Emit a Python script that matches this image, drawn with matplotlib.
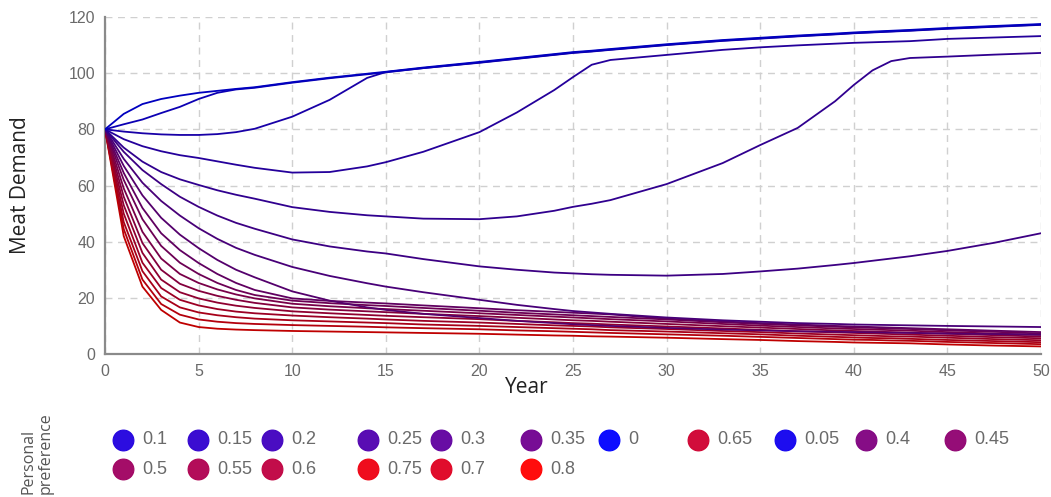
import matplotlib
matplotlib.use("Agg")
import matplotlib.pyplot as plt
from matplotlib.lines import Line2D

# ---------------- data ----------------
years = [0, 1, 2, 3, 4, 5, 6, 7, 8, 10, 12, 14, 15, 17, 20, 22, 24, 25, 26, 27,
         30, 33, 35, 37, 39, 40, 41, 42, 43, 45, 47.5, 50]

pref_0 = [80, 85.5, 89, 90.8, 92, 93, 93.7, 94.4, 95, 96.8, 98.4, 99.8, 100.5, 102, 104, 105.4,
          106.8, 107.5, 108, 108.6, 110.3, 111.8, 112.6, 113.4, 114.1, 114.5, 114.8, 115.1,
          115.4, 116.1, 116.8, 117.5]
pref_005 = [80, 81.8, 83.5, 85.8, 88, 90.8, 93, 94.2, 94.8, 96.6, 98.2, 99.6, 100.3, 101.8, 103.8,
            105.2, 106.6, 107.3, 107.8, 108.4, 110.1, 111.6, 112.4, 113.2, 113.9, 114.3, 114.6,
            114.9, 115.2, 115.9, 116.6, 117.3]
pref_010 = [80, 79.2, 78.6, 78.2, 78, 78, 78.3, 79, 80.2, 84.5, 90.5, 98.3, 100.4, 101.8, 103.7,
            105.1, 106.5, 107.2, 107.7, 108.3, 110, 111.5, 112.3, 113.1, 113.8, 114.2, 114.5,
            114.8, 115.1, 115.8, 116.5, 117.2]
pref_015 = [80, 76.5, 74, 72.2, 70.8, 69.8, 68.6, 67.4, 66.3, 64.6, 64.8, 66.8, 68.3, 72, 79, 86,
            94, 98.6, 103, 104.7, 106.5, 108.3, 109.2, 109.9, 110.5, 110.8, 111, 111.2, 111.4,
            112.2, 112.7, 113.2]
pref_020 = [80, 73.5, 68.5, 64.8, 62.2, 60.2, 58.3, 56.7, 55.3, 52.3, 50.6, 49.4, 49, 48.2, 48,
            49, 51, 52.4, 53.5, 54.8, 60.5, 68, 74.4, 80.5, 90, 95.8, 101, 104.3, 105.4, 105.9,
            106.6, 107.2]
pref_025 = [80, 72, 65.5, 60.5, 56, 52.4, 49.3, 46.7, 44.6, 40.8, 38.3, 36.5, 35.8, 33.8, 31.2,
            30, 29, 28.7, 28.4, 28.2, 27.9, 28.5, 29.4, 30.4, 31.7, 32.4, 33.2, 34, 34.8, 36.7,
            39.6, 43]
pref_030 = [80, 69.5, 61, 54.5, 49.3, 44.8, 41, 37.8, 35.3, 31, 27.8, 25.2, 24, 22, 19.3, 17.5,
            16, 15.3, 14.8, 14.3, 13, 12, 11.5, 11, 10.7, 10.5, 10.4, 10.3, 10.2, 10, 9.8, 9.6]
pref_035 = [80, 67, 56.5, 48.5, 42.5, 37.7, 33.5, 30, 27.3, 22.3, 19, 16.6, 15.7, 14.3, 12.8,
            11.8, 11, 10.6, 10.3, 10, 9.3, 8.7, 8.4, 8.1, 7.9, 7.8, 7.7, 7.6, 7.5, 7.3, 7.1, 6.9]
pref_040 = [80, 64.5, 52, 43, 37, 32.4, 28.5, 25.3, 22.8, 19.8, 18.9, 18.3, 18, 17.3, 16.3, 15.6,
            15, 14.7, 14.4, 14.1, 12.6, 11.6, 11, 10.5, 10, 9.8, 9.6, 9.4, 9.2, 8.8, 8.3, 7.8]
pref_045 = [80, 62, 48, 38.5, 32.5, 28.5, 25.3, 22.8, 21, 19, 18.1, 17.4, 17.1, 16.4, 15.4, 14.7,
            14.1, 13.8, 13.5, 13.2, 12.3, 11.3, 10.7, 10.2, 9.7, 9.5, 9.3, 9.1, 8.9, 8.4, 7.9, 7.3]
pref_050 = [80, 59, 43.5, 34, 28.5, 25.3, 23, 21.2, 19.8, 17.9, 17, 16.3, 16, 15.4, 14.5, 13.9,
            13.3, 13, 12.7, 12.4, 11.6, 10.7, 10.1, 9.6, 9.1, 8.9, 8.7, 8.5, 8.3, 7.8, 7.3, 6.8]
pref_055 = [80, 56, 39.5, 30, 25, 22.5, 20.7, 19.3, 18.2, 16.6, 15.8, 15.2, 14.9, 14.3, 13.5,
            12.9, 12.3, 12, 11.8, 11.5, 10.7, 9.9, 9.4, 8.9, 8.4, 8.2, 8, 7.8, 7.6, 7.2, 6.7, 6.2]
pref_060 = [80, 53, 36, 26.5, 22, 19.8, 18.3, 17.2, 16.4, 15.2, 14.5, 13.9, 13.6, 13.1, 12.4,
            11.8, 11.3, 11, 10.8, 10.5, 9.8, 9.1, 8.6, 8.1, 7.7, 7.5, 7.3, 7.1, 6.9, 6.5, 6, 5.6]
pref_065 = [80, 50, 32.5, 23.5, 19.3, 17.3, 16, 15.1, 14.5, 13.7, 13.1, 12.6, 12.3, 11.8, 11.2,
            10.7, 10.2, 10, 9.8, 9.5, 8.9, 8.2, 7.8, 7.3, 6.9, 6.7, 6.5, 6.3, 6.2, 5.8, 5.3, 4.9]
pref_070 = [80, 47, 29.5, 20.5, 16.6, 14.8, 13.8, 13.1, 12.6, 12, 11.6, 11.2, 11, 10.5, 10, 9.6,
            9.2, 9, 8.8, 8.5, 8, 7.4, 7, 6.5, 6.1, 5.9, 5.7, 5.6, 5.4, 5, 4.6, 4.2]
pref_075 = [80, 44.5, 26.5, 17.8, 14, 12.3, 11.5, 11, 10.7, 10.3, 10, 9.7, 9.5, 9.2, 8.8, 8.4,
            8.1, 7.9, 7.7, 7.5, 7, 6.5, 6.1, 5.7, 5.3, 5.1, 5, 4.8, 4.7, 4.3, 3.9, 3.5]
pref_080 = [80, 42, 24, 15.7, 11.2, 9.6, 9, 8.7, 8.5, 8.2, 8, 7.8, 7.7, 7.5, 7.2, 6.9, 6.6, 6.5,
            6.3, 6.2, 5.8, 5.3, 5, 4.6, 4.3, 4.1, 4, 3.9, 3.8, 3.4, 3, 2.7]

preferences = [0, 0.05, 0.1, 0.15, 0.2, 0.25, 0.3, 0.35, 0.4, 0.45,
               0.5, 0.55, 0.6, 0.65, 0.7, 0.75, 0.8]
series = [pref_0, pref_005, pref_010, pref_015, pref_020, pref_025, pref_030, pref_035,
          pref_040, pref_045, pref_050, pref_055, pref_060, pref_065, pref_070, pref_075, pref_080]
pref_labels = ["0", "0.05", "0.1", "0.15", "0.2", "0.25", "0.3", "0.35", "0.4", "0.45",
               "0.5", "0.55", "0.6", "0.65", "0.7", "0.75", "0.8"]

# legend order as shown (row 1 then row 2)
legend_row1 = ["0.1", "0.15", "0.2", "0.25", "0.3", "0.35", "0", "0.65", "0.05", "0.4", "0.45"]
legend_row2 = ["0.5", "0.55", "0.6", "0.75", "0.7", "0.8"]

x_ticks = [0, 5, 10, 15, 20, 25, 30, 35, 40, 45, 50]
y_ticks = [0, 20, 40, 60, 80, 100, 120]


def pref_color(p, shade=1.0):
    t = p / 0.8
    return (t * shade, 0.0, (1 - t) * shade)


W, H = 1051, 497
fig = plt.figure(figsize=(W / 100, H / 100), dpi=100)
ax = fig.add_axes([105 / W, 1 - 354 / H, 936 / W, 337 / H])

for p, vals in sorted(zip(preferences, series), key=lambda t: -t[0]):
    ax.plot(years, vals, color=pref_color(p, 0.75), lw=1.3, solid_joinstyle="round",
            solid_capstyle="round", zorder=3)

ax.set_xlim(0, 50)
ax.set_ylim(0, 120)
ax.set_xticks(x_ticks)
ax.set_yticks(y_ticks)
ax.grid(True, color="#d0d0d0", linestyle=(0, (5, 4)), lw=1.0, zorder=0)
ax.tick_params(length=0, labelsize=11.5, labelcolor="#6a6a6a", pad=7)
for lbl in ax.get_xticklabels() + ax.get_yticklabels():
    lbl.set_family(["Liberation Sans", "DejaVu Sans"])
for s in ["top", "right"]:
    ax.spines[s].set_visible(False)
for s in ["left", "bottom"]:
    ax.spines[s].set_color("#8a8a8a")
    ax.spines[s].set_linewidth(1.6)

ax.set_xlabel("Year", fontsize=15, family=["Open Sans", "DejaVu Sans"], color="#222222")
ax.xaxis.set_label_coords((527 - 105) / 936, -0.068)
ax.set_ylabel("Meat Demand", fontsize=15, family=["Open Sans", "DejaVu Sans"], color="#222222")
ax.yaxis.set_label_coords((31 - 105) / 936, 0.5)

# ---------------- legend ----------------
col_x = [123, 198, 272, 368, 441, 531, 609, 698, 785, 866, 955]
row_y = [440, 469]
for row, labels in enumerate([legend_row1, legend_row2]):
    for i, lab in enumerate(labels):
        p = preferences[pref_labels.index(lab)]
        cx, cy = col_x[i] / W, 1 - row_y[row] / H
        fig.add_artist(Line2D([cx], [cy], marker="o", markersize=15,
                              markerfacecolor=pref_color(p), markeredgecolor=pref_color(p),
                              markeredgewidth=0.8, transform=fig.transFigure, alpha=0.95))
        fig.text(cx + 19 / W, cy, lab, fontsize=13, color="#6a6a6a",
                 family=["Liberation Sans", "DejaVu Sans"], ha="left", va="center")

fig.text(37 / W, 3 / H, "Personal\npreference", rotation=90, ha="center", va="bottom",
         multialignment="left", fontsize=11.5, color="#555555",
         family=["Open Sans", "DejaVu Sans"], linespacing=1.05)

fig.savefig("out.png", dpi=100)
